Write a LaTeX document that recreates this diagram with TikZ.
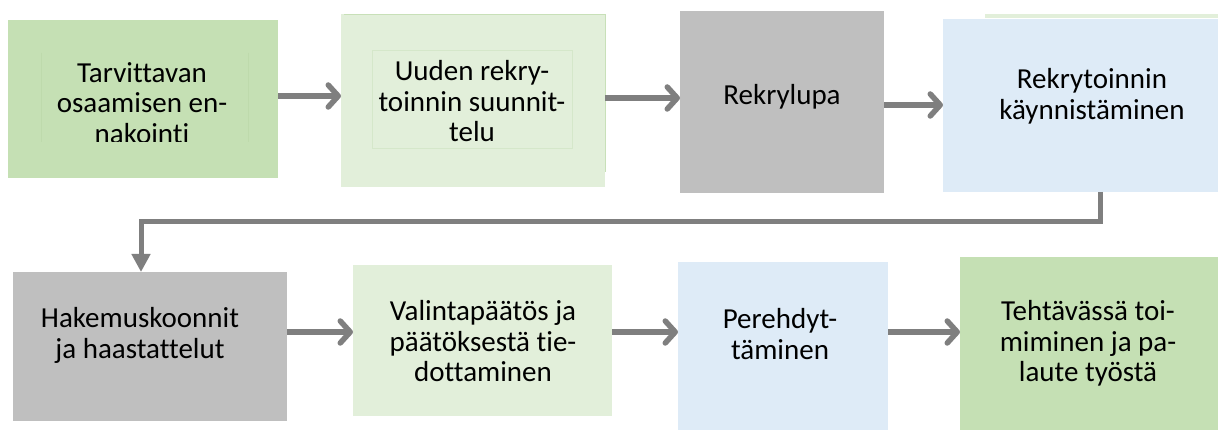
\documentclass[tikz,border=0pt]{standalone}
\usepackage{fontspec}
\setmainfont{Carlito}[Ligatures=NoCommon]
\usetikzlibrary{arrows.meta}
\definecolor{gA}{HTML}{C5E0B4}
\definecolor{gB}{HTML}{E2EFDA}
\definecolor{grB}{HTML}{BFBFBF}
\definecolor{blB}{HTML}{DEEBF7}
\definecolor{arr}{HTML}{7F7F7F}
\definecolor{ghostA}{HTML}{BEDAAC}
\definecolor{ghostB}{HTML}{D5E7CA}
\definecolor{ghostC}{HTML}{C8E0B8}
\tikzset{
  box/.style={rectangle, inner sep=0pt, outer sep=0pt, draw=none},
  lbl/.style={inner sep=0pt, outer sep=0pt, text width=280pt, align=flush center, anchor=base,
    font=\fontsize{29}{30.5}\selectfont},
  flow/.style={draw=arr, line width=5.5pt, -{Straight Barb[length=10pt,width=22pt,round]}},
  backloop/.style={draw=arr, line width=5pt, line join=miter, -{Triangle[length=18pt,width=18pt]}},
}
\begin{document}
\begin{tikzpicture}[x=1pt,y=-1pt]
\useasboundingbox[fill=white] (0,0) rectangle (1219,430);

% boxes
\node[box, fill=gA,  minimum width=270pt, minimum height=158pt] (b1) at (143,99) {};
\node[box, fill=gB,  minimum width=264pt, minimum height=173pt] (b2) at (473,100.5) {};
\node[box, fill=grB, minimum width=204pt, minimum height=182pt] (b3) at (782,102) {};
\node[box, fill=blB, minimum width=275pt, minimum height=173pt] (b4) at (1080.5,105.5) {};
\node[box, fill=grB, minimum width=274pt, minimum height=149pt] (b5) at (150,346.5) {};
\node[box, fill=gB,  minimum width=259pt, minimum height=151pt] (b6) at (482.5,340.5) {};
\node[box, fill=blB, minimum width=210pt, minimum height=168pt] (b7) at (783,346) {};
\node[box, fill=gA,  minimum width=258pt, minimum height=173pt] (b8) at (1089,343.5) {};

% faint traces
\draw[ghostA, line width=0.6pt] (41,53) -- (41,142) (248,53) -- (248,142);
\draw[ghostB, line width=0.6pt] (372,50) rectangle (572,148);
\draw[ghostC, line width=1pt] (344,14.5) -- (605,14.5) -- (605,172);
\fill[gB] (985,14.5) rectangle (1218,18.5);

% labels
\begin{scope}
  \clip (41,53) rectangle (248,142);
  \node[lbl] (t1) at (142,82.5) {Tarvittavan\\osaamisen en-\\nakointi};
\end{scope}
\node[lbl] (t2) at (472,81) {Uuden rekry-\\toinnin suunnit-\\telu};
\node[lbl] (t3) at (782,105) {Rekrylupa};
\node[lbl] (t4) at (1092,89) {Rekrytoinnin\\käynnistäminen};
\node[lbl] (t5) at (140,328) {Hakemuskoonnit\\ja haastattelut};
\node[lbl] (t6) at (483,321) {Valintapäätös ja\\päätöksestä tie-\\dottaminen};
\node[lbl] (t7) at (780,329) {Perehdyt-\\täminen};
\node[lbl] (t8) at (1088,321) {Tehtävässä toi-\\miminen ja pa-\\laute työstä};

% connectors
\coordinate (r1) at (0,96);
\coordinate (r2) at (0,98);
\coordinate (r3) at (0,105);
\coordinate (r4) at (0,332);
\coordinate (k1) at (1100,222);
\coordinate (k2) at (141,222);
\draw[flow] (b1.east |- r1) -- (b2.west |- r1);
\draw[flow] (b2.east |- r2) -- (b3.west |- r2);
\draw[flow] (b3.east |- r3) -- (b4.west |- r3);
\draw[backloop] (b4.south -| k1) -- (k1) -- (k2) -- (b5.north -| k2);
\draw[flow] (b5.east |- r4) -- (b6.west |- r4);
\draw[flow] (b6.east |- r4) -- (b7.west |- r4);
\draw[flow] (b7.east |- r4) -- (b8.west |- r4);
\end{tikzpicture}
\end{document}
